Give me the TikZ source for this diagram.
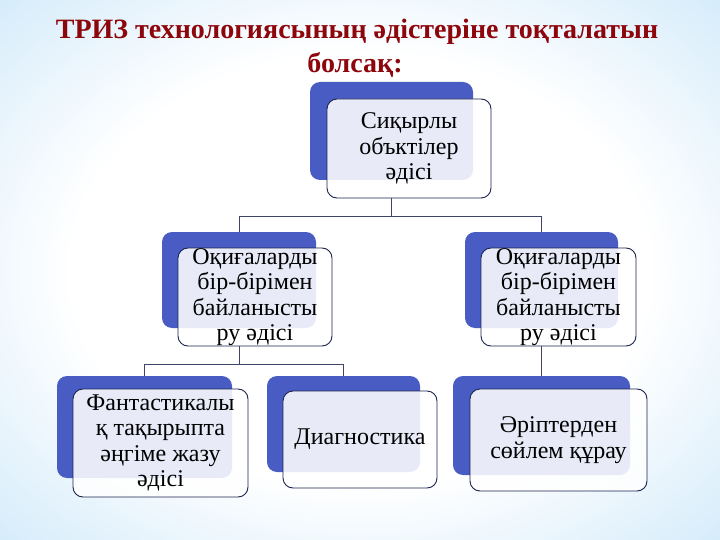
\documentclass[tikz,border=0pt]{standalone}
\usepackage{fontspec}
\setmainfont{Liberation Serif}
\definecolor{bgblue}{RGB}{160,208,242}
\definecolor{bglight}{RGB}{212,235,250}
\definecolor{boxblue}{RGB}{72,92,196}
\definecolor{boxline}{RGB}{28,36,78}
\definecolor{titlered}{RGB}{140,6,12}
\pgfdeclareradialshading{bgglow}{\pgfpoint{0bp}{0bp}}{color(0bp)=(white); color(20bp)=(white); color(36bp)=(bglight); color(50bp)=(bgblue)}
\tikzset{
  backbox/.style={fill=boxblue, rounded corners=10pt, inner sep=0pt},
  frontbox/.style={draw=boxline, line width=0.9pt, fill=white, fill opacity=0.88, text opacity=1,
    rounded corners=10pt, inner sep=0pt, align=center, font=\fontsize{24}{25.5}\selectfont},
  conn/.style={draw=boxline!85, line width=0.8pt},
  titletext/.style={text=titlered, font=\fontsize{28}{34}\selectfont\bfseries}
}
\begin{document}
\begin{tikzpicture}[x=1pt,y=-1pt]
\useasboundingbox (0,0) rectangle (720,540);
\shade[shading=bgglow] (0,0) rectangle (720,540);
% title
\node[titletext, anchor=base] (title1) at (357,39) {ТРИЗ технологиясының әдістеріне тоқталатын};
\node[titletext, anchor=base] (title2) at (355,73) {болсақ:};
% top box
\node[backbox, minimum width=163, minimum height=98] (sikyrB) at (391.5,131) {};
\node[frontbox, minimum width=164, minimum height=99] (sikyr) at (409,148.5) {Сиқырлы\\объктілер\\әдісі};
% middle row
\node[backbox, minimum width=154, minimum height=96] (oqigaLB) at (239,280) {};
\node[frontbox, minimum width=154, minimum height=98] (oqigaL) at (255,297) {Оқиғаларды\\бір-бірімен\\байланысты\\ру әдісі};
\node[backbox, minimum width=153, minimum height=96] (oqigaRB) at (541.5,280) {};
\node[frontbox, minimum width=155, minimum height=98] (oqigaR) at (558.5,297) {Оқиғаларды\\бір-бірімен\\байланысты\\ру әдісі};
% bottom row
\node[backbox, minimum width=175, minimum height=102] (fantB) at (144.5,427) {};
\node[frontbox, minimum width=175, minimum height=108] (fant) at (160.5,443) {Фантастикалы\\қ тақырыпта\\әңгіме жазу\\әдісі};
\node[backbox, minimum width=153, minimum height=96] (diagB) at (343.5,424) {};
\node[frontbox, minimum width=154, minimum height=97] (diag) at (360,439.5) {Диагностика};
\node[backbox, minimum width=177, minimum height=99] (seilemB) at (541.5,425.5) {};
\node[frontbox, minimum width=177, minimum height=102] (seilem) at (558.5,440) {Әріптерден\\сөйлем құрау};
% connectors
\coordinate (j1) at (0,216);
\coordinate (j2) at (0,364);
\draw[conn] (sikyrB.south |- sikyr.south) -- (sikyrB.south |- j1);
\draw[conn] (oqigaLB.north) -- (oqigaLB.north |- j1) -- (oqigaRB.north |- j1) -- (oqigaRB.north);
\draw[conn] (oqigaLB.south |- oqigaL.south) -- (oqigaLB.south |- j2);
\draw[conn] (fantB.north) -- (fantB.north |- j2) -- (diagB.north |- j2) -- (diagB.north);
\draw[conn] (oqigaRB.south |- oqigaR.south) -- (seilemB.north);
\end{tikzpicture}
\end{document}
